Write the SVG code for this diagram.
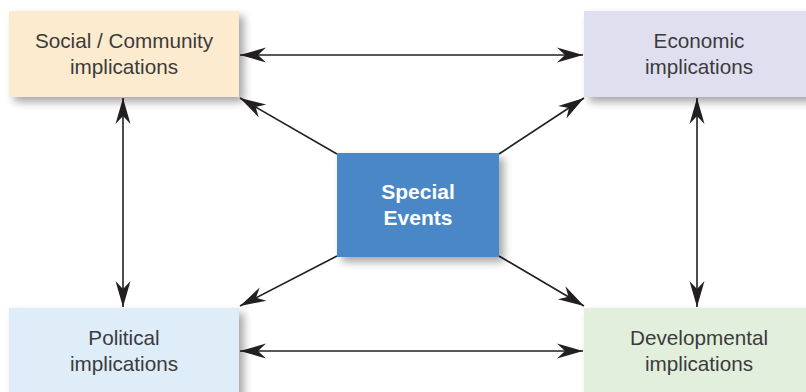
<svg xmlns="http://www.w3.org/2000/svg" width="806" height="392" viewBox="0 0 806 392">
  <style>
    .lbl { font-family: "Liberation Sans", Arial, sans-serif; font-size: 20.7px; fill: #3b3b3b; text-anchor: middle; }
    .ctr { font-family: "Liberation Sans", Arial, sans-serif; font-size: 21px; font-weight: bold; fill: #ffffff; text-anchor: middle; }
    .link { stroke: #231f20; stroke-width: 1.6; fill: none; marker-start: url(#head); marker-end: url(#head); }
    .one { stroke: #231f20; stroke-width: 1.6; fill: none; marker-end: url(#head); }
  </style>
  <defs>
    <filter id="shadow" x="-10%" y="-10%" width="130%" height="140%">
      <feGaussianBlur in="SourceAlpha" stdDeviation="4"/>
      <feOffset dx="5" dy="5" result="b"/>
      <feComponentTransfer><feFuncA type="linear" slope="0.35"/></feComponentTransfer>
      <feMerge><feMergeNode/><feMergeNode in="SourceGraphic"/></feMerge>
    </filter>
    <marker id="head" viewBox="-27 -8 28 16" refX="0" refY="0" markerWidth="28" markerHeight="16" markerUnits="userSpaceOnUse" orient="auto-start-reverse">
      <path d="M0,0 L-26,-7.5 L-18,0 L-26,7.5 Z" fill="#231f20"/>
    </marker>
  </defs>
  <rect width="806" height="392" fill="#ffffff"/>

  <g id="connectors">
    <line class="link" x1="240" y1="55" x2="583" y2="55"/>
    <line class="link" x1="240" y1="351" x2="583" y2="351"/>
    <line class="link" x1="123" y1="98" x2="123" y2="307"/>
    <line class="link" x1="697" y1="98" x2="697" y2="307"/>
    <line class="one" x1="337" y1="154" x2="240" y2="98"/>
    <line class="one" x1="499" y1="154" x2="584" y2="98"/>
    <line class="one" x1="337" y1="256" x2="240" y2="306"/>
    <line class="one" x1="499" y1="256" x2="584" y2="306"/>
  </g>

  <g id="social">
    <rect x="9" y="11" width="230" height="86" fill="#fdebcf" filter="url(#shadow)"/>
    <text class="lbl" x="124" y="48">Social / Community</text>
    <text class="lbl" x="124" y="74">implications</text>
  </g>

  <g id="economic">
    <rect x="584" y="11" width="230" height="86" fill="#e0dff0" filter="url(#shadow)"/>
    <text class="lbl" x="699" y="48">Economic</text>
    <text class="lbl" x="699" y="74">implications</text>
  </g>

  <g id="political">
    <rect x="9" y="308" width="230" height="100" fill="#dfedf9" filter="url(#shadow)"/>
    <text class="lbl" x="124" y="345">Political</text>
    <text class="lbl" x="124" y="371">implications</text>
  </g>

  <g id="developmental">
    <rect x="584" y="308" width="230" height="100" fill="#e2efdd" filter="url(#shadow)"/>
    <text class="lbl" x="699" y="345">Developmental</text>
    <text class="lbl" x="699" y="371">implications</text>
  </g>

  <g id="special-events">
    <rect x="337" y="153" width="162" height="104" fill="#4a87c6" filter="url(#shadow)"/>
    <text class="ctr" x="418" y="199">Special</text>
    <text class="ctr" x="418" y="225">Events</text>
  </g>
</svg>
